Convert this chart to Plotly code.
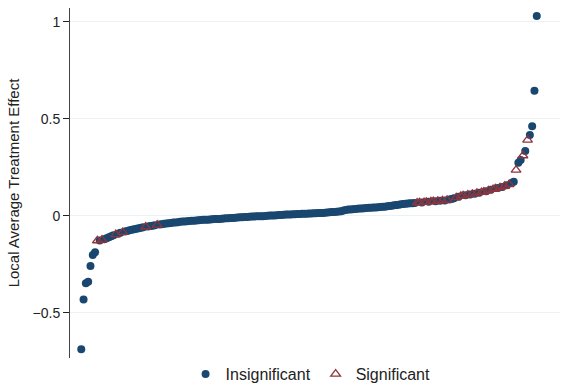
import plotly.graph_objects as go

# Local average treatment effects, sorted by rank
late = [
    -0.687, -0.430, -0.347, -0.339, -0.258, -0.201, -0.187, -0.127, -0.126, -0.123,
    -0.120, -0.115, -0.110, -0.105, -0.099, -0.095, -0.091, -0.087, -0.084, -0.080,
    -0.077, -0.074, -0.071, -0.068, -0.066, -0.063, -0.061, -0.058, -0.056, -0.054,
    -0.052, -0.050, -0.048, -0.046, -0.044, -0.042, -0.040, -0.039, -0.037, -0.036,
    -0.034, -0.033, -0.032, -0.030, -0.029, -0.028, -0.027, -0.026, -0.025, -0.024,
    -0.023, -0.022, -0.021, -0.020, -0.020, -0.019, -0.018, -0.017, -0.016, -0.015,
    -0.015, -0.014, -0.013, -0.012, -0.012, -0.011, -0.010, -0.009, -0.008, -0.007,
    -0.006, -0.005, -0.005, -0.004, -0.003, -0.003, -0.002, -0.002, -0.001, -0.001,
    0.000, 0.001, 0.002, 0.002, 0.003, 0.004, 0.005, 0.005, 0.006, 0.007,
    0.007, 0.008, 0.009, 0.009, 0.010, 0.010, 0.011, 0.011, 0.012, 0.013,
    0.013, 0.014, 0.014, 0.015, 0.016, 0.016, 0.017, 0.018, 0.019, 0.020,
    0.021, 0.022, 0.023, 0.025, 0.028, 0.031, 0.033, 0.034, 0.035, 0.036,
    0.037, 0.038, 0.039, 0.040, 0.041, 0.042, 0.043, 0.044, 0.044, 0.045,
    0.046, 0.047, 0.048, 0.050, 0.051, 0.053, 0.055, 0.057, 0.058, 0.060,
    0.062, 0.063, 0.064, 0.065, 0.066, 0.067, 0.068, 0.069, 0.070, 0.071,
    0.072, 0.073, 0.074, 0.075, 0.076, 0.077, 0.078, 0.079, 0.080, 0.082,
    0.085, 0.088, 0.091, 0.095, 0.099, 0.103, 0.105, 0.107, 0.109, 0.111,
    0.113, 0.115, 0.118, 0.120, 0.122, 0.125, 0.128, 0.131, 0.135, 0.138,
    0.141, 0.144, 0.147, 0.150, 0.154, 0.158, 0.163, 0.170, 0.177, 0.237,
    0.275, 0.289, 0.311, 0.335, 0.392, 0.418, 0.462, 0.646, 1.031,
]

# Ranks whose estimate is statistically significant
significant_ranks = [
    7, 9, 15, 18, 28, 33,
    146, 147, 149, 150, 152, 153, 155, 157, 159,
    163, 165, 166, 168, 170, 172, 174, 175, 177, 179, 180, 182, 184, 186,
    189, 192, 194,
]

y_ticks = [-0.5, 0, 0.5, 1]
y_ticktext = ["\u22120.5", "0", "0.5", "1"]
series_names = ["Insignificant", "Significant"]

rank = list(range(len(late)))
sig_set = set(significant_ranks)
ins_x = [r for r in rank if r not in sig_set]
ins_y = [late[r] for r in ins_x]
sig_x = [r for r in rank if r in sig_set]
sig_y = [late[r] for r in sig_x]

navy = "#1a476f"
maroon = "#90353b"

fig = go.Figure()
fig.add_trace(go.Scatter(
    x=ins_x, y=ins_y, mode="markers", name=series_names[0],
    marker=dict(symbol="circle", size=8, color=navy, line=dict(width=0)),
))
fig.add_trace(go.Scatter(
    x=sig_x, y=sig_y, mode="markers", name=series_names[1],
    marker=dict(symbol="triangle-up-open", size=8.5, color=maroon,
                line=dict(width=1.3, color=maroon)),
))

font_family = "Liberation Sans, Arial, Helvetica, sans-serif"

H = 384
top, bottom = 8, 26
plot_h = H - top - bottom

fig.update_layout(
    width=564, height=H,
    margin=dict(l=70, r=4, t=top, b=bottom, autoexpand=False),
    paper_bgcolor="white", plot_bgcolor="white",
    font=dict(family=font_family, size=14, color="#222222"),
    showlegend=True,
    legend=dict(
        orientation="h", x=0.491, xanchor="center",
        y=-(374 - (H - bottom)) / plot_h, yanchor="middle",
        font=dict(size=16, color="#222222"), itemwidth=30,
        bgcolor="rgba(0,0,0,0)", tracegroupgap=0,
    ),
    xaxis=dict(
        range=[-4.9, 208.1], showgrid=False, zeroline=False, showline=False,
        showticklabels=False, ticks="",
    ),
    yaxis=dict(
        range=[-0.732, 1.072], tickvals=y_ticks, ticktext=y_ticktext,
        showgrid=True, gridcolor="#eaf2f3", gridwidth=1,
        zeroline=False, showline=True, linecolor="#444444", linewidth=1,
        ticks="outside", ticklen=6, tickcolor="#222222",
        tickfont=dict(size=14, color="#222222"),
        title=dict(text="Local Average Treatment Effect", font=dict(size=15), standoff=9),
    ),
)

fig.write_html("out.html")
